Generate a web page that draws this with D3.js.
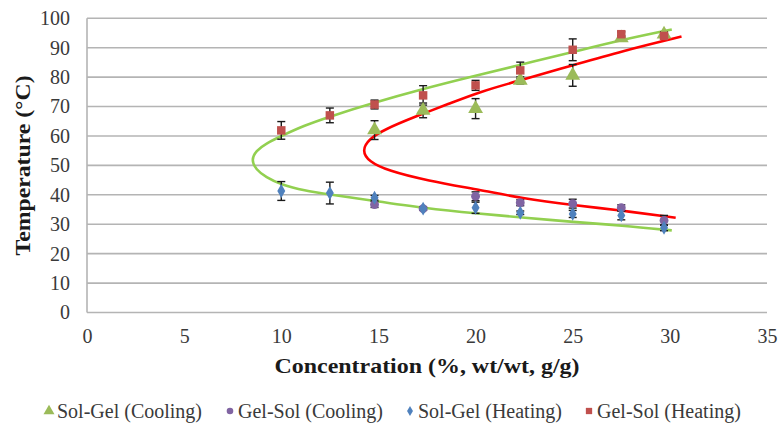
<!DOCTYPE html>
<html>
<head>
<meta charset="utf-8">
<script src="https://cdn.jsdelivr.net/npm/d3@7"></script>
<style>
  html, body { margin: 0; padding: 0; background: #fff; }
  svg { display: block; }
</style>
</head>
<body>
<svg id="chart" width="781" height="429"></svg>
<script>
// Measured phase-transition temperatures vs. concentration
const solGelCoolX   = [14.8, 17.3, 20, 22.3, 25, 27.5, 29.7];
const solGelCoolT   = [62, 68.7, 69.3, 78.9, 80.6, 93.3, 94.6];
const solGelCoolErr = [3.2, 2.5, 3.4, 1.2, 3.7, 0.8, 0.8];

const gelSolCoolX   = [14.8, 17.3, 20, 22.3, 25, 27.5, 29.7];
const gelSolCoolT   = [36.7, 35.3, 39.5, 37.3, 37.0, 35.6, 31.3];
const gelSolCoolErr = [1, 0.5, 1.5, 1, 1.5, 1, 1.7];

const solGelHeatX   = [10, 12.5, 14.8, 17.3, 20, 22.3, 25, 27.5, 29.7];
const solGelHeatT   = [41.3, 40.6, 39.0, 35.3, 35.6, 33.9, 33.5, 33.0, 28.8];
const solGelHeatErr = [3.2, 3.7, 0.8, 0.5, 1.9, 0.6, 1.2, 1.5, 1.0];

const gelSolHeatX   = [10, 12.5, 14.8, 17.3, 20, 22.3, 25, 27.5, 29.7];
const gelSolHeatT   = [61.9, 67, 70.7, 73.8, 77.2, 82.3, 89.3, 94.6, 94.0];
const gelSolHeatErr = [3, 2.5, 1.5, 3.3, 1.7, 2.8, 3.7, 0.8, 0.8];

// Boundary curves (concentration, temperature) traced along each branch
const coolCurveX = [30.1, 27.4, 25, 22.3, 19.7, 17.3, 14.7, 12.4, 11.2, 10.0, 9.2, 8.7, 8.45, 8.7, 9.2, 10.0, 11.2, 12.4, 14.8, 17.3, 20.1, 22.3, 25.1, 27.5, 30.1];
const coolCurveT = [96.2, 92.5, 88.5, 84.2, 80.0, 76.0, 71.2, 66.4, 63.6, 60.0, 57.4, 55.0, 51.8, 48.6, 46.0, 43.4, 41.4, 40.2, 37.9, 35.5, 33.6, 32.4, 30.7, 29.6, 27.9];

const heatCurveX = [30.6, 27.5, 25, 22.3, 20.2, 18.65, 16.9, 15.3, 14.5, 14.15, 14.5, 15.5, 17.45, 20.37, 22.3, 25.1, 27.5, 30.3];
const heatCurveT = [93.8, 88.8, 84.0, 78.9, 75.0, 71.0, 66.6, 62.2, 58.9, 55.1, 51.3, 48.2, 44.9, 41.5, 38.9, 36.4, 34.7, 32.2];

const xTicks = [0, 5, 10, 15, 20, 25, 30, 35];
const yTicks = [0, 10, 20, 30, 40, 50, 60, 70, 80, 90, 100];

const legendLabels = ["Sol-Gel (Cooling)", "Gel-Sol (Cooling)", "Sol-Gel (Heating)", "Gel-Sol (Heating)"];

const serif = '"Liberation Serif", "Times New Roman", Times, serif';
const svg = d3.select("#chart");
const x = d3.scaleLinear().domain([0, 35]).range([87, 767]);
const y = d3.scaleLinear().domain([0, 100]).range([312.5, 18.3]);

const gridColor = "#B4B4B4";
const labelColor = "#3a3a3a";

// horizontal gridlines
svg.append("g").selectAll("line").data(yTicks).join("line")
  .attr("x1", x(0)).attr("x2", x(35))
  .attr("y1", d => y(d)).attr("y2", d => y(d))
  .attr("stroke", gridColor).attr("stroke-width", 1.6);

// vertical axis line
svg.append("line")
  .attr("x1", x(0)).attr("x2", x(0)).attr("y1", y(0)).attr("y2", y(100))
  .attr("stroke", gridColor).attr("stroke-width", 1.6);

// axes (labels only)
const yAxis = svg.append("g").attr("transform", `translate(${x(0)},0)`)
  .call(d3.axisLeft(y).tickValues(yTicks).tickSize(0).tickPadding(17).tickFormat(d3.format("d")));
const xAxis = svg.append("g").attr("transform", `translate(0,${y(0)})`)
  .call(d3.axisBottom(x).tickValues(xTicks).tickSize(0).tickPadding(16).tickFormat(d3.format("d")));
[yAxis, xAxis].forEach(a => {
  a.select(".domain").remove();
  a.selectAll("text").style("font-family", serif).style("font-size", "20px").attr("fill", labelColor);
});

// axis titles
svg.append("text")
  .attr("transform", `translate(23,${(y(0) + y(100)) / 2}) rotate(-90)`)
  .attr("text-anchor", "middle").attr("dy", "0.35em")
  .style("font-family", serif).style("font-weight", "bold").style("font-size", "21px")
  .attr("fill", "#1a1a1a")
  .attr("textLength", 180).attr("lengthAdjust", "spacingAndGlyphs")
  .text("Temperature (°C)");

svg.append("text")
  .attr("x", (x(0) + x(35)) / 2).attr("y", 366)
  .attr("text-anchor", "middle").attr("dy", "0.35em")
  .style("font-family", serif).style("font-weight", "bold").style("font-size", "21px")
  .attr("fill", "#1a1a1a")
  .attr("textLength", 305).attr("lengthAdjust", "spacingAndGlyphs")
  .text("Concentration (%, wt/wt, g/g)");

// boundary curves
const line = d3.line().x(d => x(d[0])).y(d => y(d[1])).curve(d3.curveBasis);
svg.append("path").datum(d3.zip(coolCurveX, coolCurveT))
  .attr("d", line).attr("fill", "none").attr("stroke", "#92D050").attr("stroke-width", 2.6);
svg.append("path").datum(d3.zip(heatCurveX, heatCurveT))
  .attr("d", line).attr("fill", "none").attr("stroke", "#FF0000").attr("stroke-width", 2.6);

// series definitions
const series = [
  { xs: solGelCoolX, ts: solGelCoolT, err: solGelCoolErr, color: "#9BBB59", symbol: d3.symbolTriangle, size: 95 },
  { xs: gelSolCoolX, ts: gelSolCoolT, err: gelSolCoolErr, color: "#8064A2", symbol: d3.symbolCircle, size: 62 },
  { xs: solGelHeatX, ts: solGelHeatT, err: solGelHeatErr, color: "#4F81BD", symbol: d3.symbolDiamond, size: 55 },
  { xs: gelSolHeatX, ts: gelSolHeatT, err: gelSolHeatErr, color: "#C0504D", symbol: d3.symbolSquare, size: 72 }
];

// error bars
series.forEach(s => {
  const g = svg.append("g").attr("stroke", "#1a1a1a").attr("stroke-width", 1.4);
  s.xs.forEach((cx, i) => {
    const px = x(cx), lo = y(s.ts[i] - s.err[i]), hi = y(s.ts[i] + s.err[i]);
    g.append("line").attr("x1", px).attr("x2", px).attr("y1", lo).attr("y2", hi);
    g.append("line").attr("x1", px - 4).attr("x2", px + 4).attr("y1", lo).attr("y2", lo);
    g.append("line").attr("x1", px - 4).attr("x2", px + 4).attr("y1", hi).attr("y2", hi);
  });
});

// markers
series.forEach(s => {
  svg.append("g").selectAll("path").data(d3.zip(s.xs, s.ts)).join("path")
    .attr("transform", d => `translate(${x(d[0])},${y(d[1])})`)
    .attr("d", d3.symbol().type(s.symbol).size(s.size))
    .attr("fill", s.color);
});

// legend
const legendX = [49, 230, 410, 589];
const legendY = 411;
legendLabels.forEach((lab, i) => {
  const s = series[i];
  svg.append("path")
    .attr("transform", `translate(${legendX[i]},${legendY})`)
    .attr("d", d3.symbol().type(s.symbol).size(s.size * 0.55))
    .attr("fill", s.color);
  svg.append("text")
    .attr("x", legendX[i] + 8).attr("y", legendY).attr("dy", "0.35em")
    .style("font-family", serif).style("font-size", "20px")
    .attr("fill", labelColor)
    .text(lab);
});
</script>
</body>
</html>
